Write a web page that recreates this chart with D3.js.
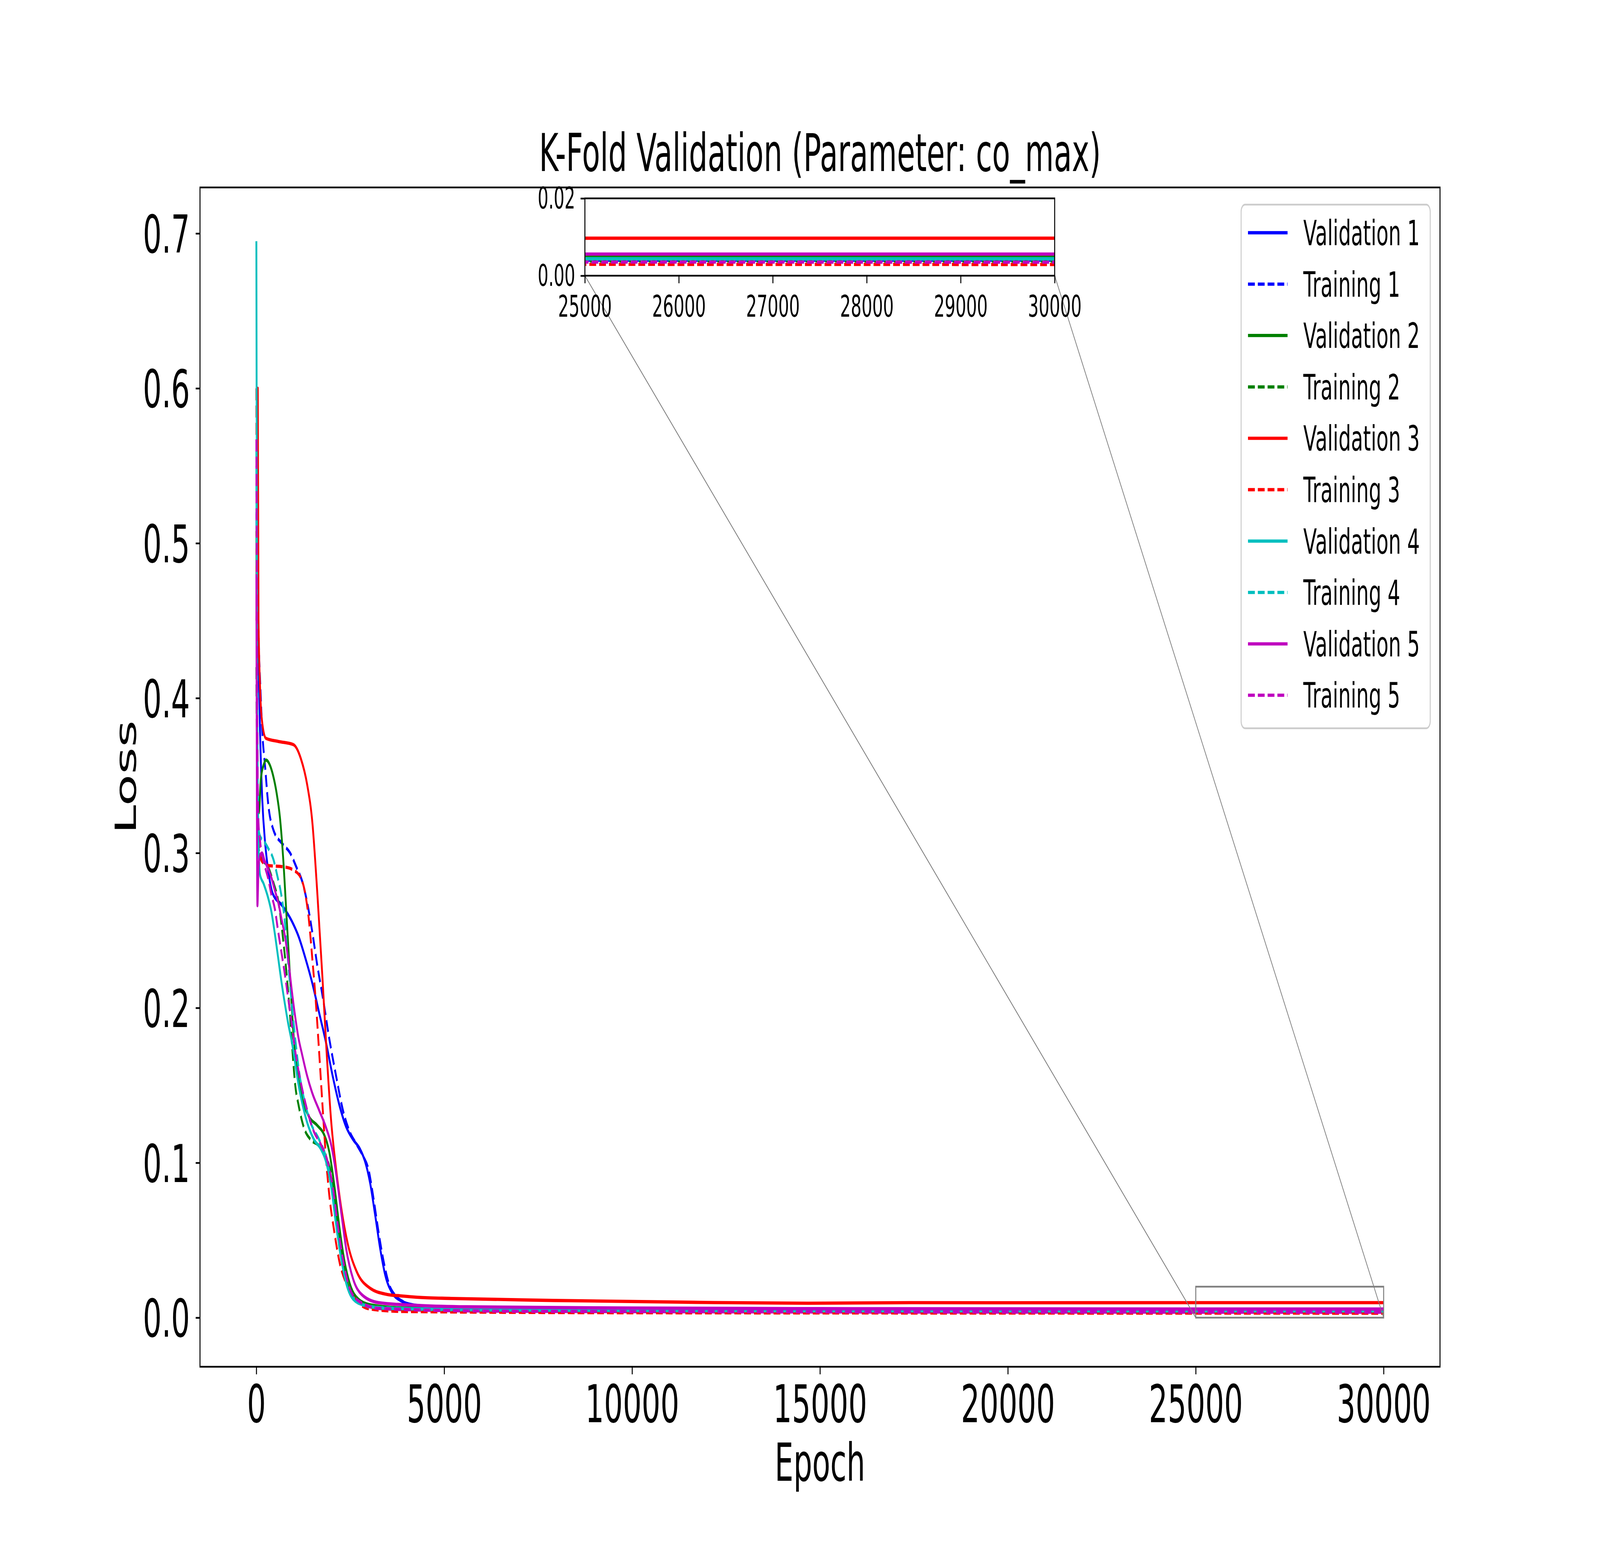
<!DOCTYPE html>
<html>
<head>
<meta charset="utf-8">
<script src="https://cdn.jsdelivr.net/npm/d3@7"></script>
<style>
  body { margin: 0; background: #ffffff; overflow: hidden; }
  text { font-family: "DejaVu Sans", sans-serif; fill: #000; }
</style>
</head>
<body>
<div id="chart"></div>
<script>
// Loss curves, [epoch, loss]
var val1 = [[0,0.52],[40,0.45],[97,0.379],[156,0.335],[235,0.306],[314,0.289],[432,0.274],[689,0.266],[944,0.256],[1125,0.246],[1306,0.232],[1488,0.216],[1669,0.197],[1850,0.178],[2031,0.156],[2212,0.137],[2393,0.123],[2574,0.115],[2755,0.109],[2891,0.101],[3027,0.087],[3163,0.066],[3299,0.044],[3435,0.027],[3616,0.016],[3842,0.011],[4159,0.0083],[4837,0.0068],[6000,0.0058],[10000,0.0050],[15000,0.0046],[20000,0.0044],[25000,0.0042],[30000,0.0042]];
var train1 = [[0,0.55],[60,0.44],[110,0.405],[156,0.379],[235,0.355],[314,0.332],[452,0.315],[689,0.306],[899,0.300],[1080,0.290],[1216,0.282],[1352,0.268],[1488,0.249],[1624,0.227],[1760,0.208],[1941,0.180],[2122,0.156],[2303,0.134],[2484,0.120],[2665,0.112],[2846,0.104],[2981,0.096],[3117,0.077],[3253,0.055],[3389,0.036],[3525,0.022],[3706,0.014],[3932,0.010],[4385,0.007],[5500,0.0055],[10000,0.0046],[15000,0.0043],[20000,0.0041],[25000,0.0040],[30000,0.0040]];
var val2 = [[0,0.508],[30,0.34],[67,0.326],[117,0.347],[196,0.357],[260,0.360],[355,0.357],[446,0.350],[537,0.339],[627,0.323],[718,0.295],[808,0.257],[899,0.219],[989,0.183],[1080,0.161],[1216,0.142],[1397,0.130],[1624,0.124],[1805,0.118],[1941,0.107],[2077,0.085],[2212,0.058],[2348,0.036],[2484,0.022],[2710,0.012],[3027,0.0083],[3932,0.0062],[6000,0.0055],[10000,0.0051],[15000,0.0049],[20000,0.0048],[25000,0.0048],[30000,0.0048]];
var train2 = [[0,0.42],[40,0.31],[100,0.298],[175,0.295],[310,0.291],[452,0.281],[590,0.268],[718,0.243],[808,0.221],[899,0.194],[967,0.170],[1035,0.150],[1125,0.137],[1261,0.123],[1442,0.115],[1669,0.111],[1850,0.104],[1987,0.093],[2122,0.068],[2258,0.044],[2393,0.025],[2574,0.014],[2846,0.0083],[3479,0.0056],[6000,0.0045],[10000,0.0041],[20000,0.0039],[30000,0.0038]];
var val3 = [[0,0.45],[38,0.600],[57,0.451],[97,0.408],[156,0.384],[255,0.374],[590,0.372],[984,0.370],[1183,0.361],[1353,0.344],[1489,0.320],[1625,0.273],[1760,0.219],[1873,0.170],[1987,0.128],[2122,0.096],[2258,0.071],[2439,0.047],[2665,0.030],[3027,0.019],[3479,0.015],[3823,0.0141],[4385,0.0130],[5184,0.0124],[7898,0.0111],[11968,0.0098],[14686,0.0093],[17402,0.0097],[20117,0.0096],[25000,0.0097],[30000,0.0097]];
var train3 = [[0,0.60],[15,0.45],[40,0.33],[97,0.300],[137,0.295],[295,0.292],[748,0.291],[984,0.289],[1183,0.284],[1306,0.273],[1397,0.257],[1488,0.232],[1579,0.205],[1669,0.172],[1760,0.137],[1850,0.104],[1941,0.079],[2077,0.055],[2212,0.036],[2393,0.022],[2665,0.011],[3027,0.0056],[3932,0.0040],[10000,0.0032],[20000,0.0030],[30000,0.0029]];
var val4 = [[0,0.695],[20,0.42],[49,0.315],[97,0.286],[196,0.280],[314,0.271],[401,0.262],[491,0.248],[582,0.232],[673,0.216],[763,0.202],[854,0.189],[944,0.178],[1035,0.164],[1125,0.150],[1216,0.139],[1352,0.126],[1533,0.115],[1714,0.109],[1850,0.101],[1987,0.085],[2122,0.060],[2258,0.038],[2393,0.022],[2574,0.012],[2846,0.0083],[3479,0.0060],[6000,0.0050],[10000,0.0046],[20000,0.0044],[30000,0.0044]];
var train4 = [[0,0.56],[25,0.36],[62,0.315],[97,0.311],[220,0.307],[314,0.303],[452,0.296],[560,0.285],[649,0.275],[748,0.258],[854,0.227],[944,0.202],[1035,0.180],[1125,0.161],[1261,0.142],[1442,0.126],[1669,0.115],[1850,0.104],[1987,0.088],[2122,0.060],[2258,0.038],[2439,0.019],[2665,0.011],[3027,0.0070],[5000,0.0052],[10000,0.0047],[20000,0.0044],[30000,0.0043]];
var val5 = [[0,0.48],[28,0.266],[60,0.292],[106,0.299],[152,0.300],[220,0.295],[310,0.290],[401,0.284],[491,0.276],[582,0.268],[673,0.257],[763,0.246],[854,0.230],[944,0.211],[1035,0.194],[1125,0.180],[1216,0.170],[1352,0.156],[1488,0.145],[1669,0.134],[1850,0.123],[1987,0.112],[2122,0.093],[2258,0.068],[2393,0.044],[2574,0.025],[2800,0.015],[3253,0.0097],[4385,0.0078],[5600,0.0070],[10000,0.0062],[15000,0.0058],[20000,0.0057],[25000,0.0056],[30000,0.0056]];
var train5 = [[0,0.567],[30,0.36],[62,0.317],[97,0.308],[220,0.292],[310,0.284],[401,0.273],[491,0.264],[582,0.249],[673,0.235],[763,0.221],[854,0.205],[944,0.189],[1035,0.172],[1125,0.159],[1216,0.148],[1352,0.134],[1533,0.120],[1714,0.112],[1895,0.101],[2031,0.085],[2167,0.060],[2303,0.038],[2484,0.019],[2710,0.011],[3253,0.0060],[6000,0.0043],[10000,0.0039],[20000,0.0036],[30000,0.0035]];

// Labels and ticks
var seriesNames = ["Validation 1", "Training 1", "Validation 2", "Training 2", "Validation 3",
                   "Training 3", "Validation 4", "Training 4", "Validation 5", "Training 5"];
var xTicks = [0, 5000, 10000, 15000, 20000, 25000, 30000];
var yTicks = [0.0, 0.1, 0.2, 0.3, 0.4, 0.5, 0.6, 0.7];
var insetXTicks = [25000, 26000, 27000, 28000, 29000, 30000];
var insetYTicks = [0.00, 0.02];
var zoomX = [25000, 30000];
var zoomY = [0, 0.02];

var seriesData = [val1, train1, val2, train2, val3, train3, val4, train4, val5, train5];
var foldColors = ["#0000ff", "#008000", "#ff0000", "#00bfbf", "#bf00bf"];

var series = seriesData.map((d, i) => ({
  name: seriesNames[i],
  values: d,
  color: foldColors[Math.floor(i / 2)],
  dashed: i % 2 == 1
}));

// The figure is laid out on a 7200x4000 canvas, then fitted to the window
var figWidth = 7200;
var figHeight = 4000;
var plot = {left: 900, right: 6480, top: 480, bottom: 3500};
var inset = {left: 2632, right: 4746, top: 508, bottom: 706};
var lineWidth = 8.33;
var dashPattern = "30.8,13.3";
var spineWidth = 4.44;
var tickLen = 19.4;

var svg = d3.select("#chart")
            .append("svg")
            .attr("width", window.innerWidth)
            .attr("height", window.innerHeight)
            .attr("viewBox", `0 0 ${figWidth} ${figHeight}`)
            .attr("preserveAspectRatio", "none")
            .style("display", "block")
            .style("background", "#fff");

// Scales, with matplotlib's 5% margins
var xScale = d3.scaleLinear().domain([-1500, 31500]).range([plot.left, plot.right]);
var yScale = d3.scaleLinear().domain([-0.0317, 0.7297]).range([plot.bottom, plot.top]);
var ixScale = d3.scaleLinear().domain(zoomX).range([inset.left, inset.right]);
var iyScale = d3.scaleLinear().domain(zoomY).range([inset.bottom, inset.top]);

var defs = svg.append("defs");
defs.append("clipPath").attr("id", "clipMain")
    .append("rect")
    .attr("x", plot.left).attr("y", plot.top)
    .attr("width", plot.right - plot.left).attr("height", plot.bottom - plot.top);
defs.append("clipPath").attr("id", "clipInset")
    .append("rect")
    .attr("x", inset.left).attr("y", inset.top)
    .attr("width", inset.right - inset.left).attr("height", inset.bottom - inset.top);

function styleLine(sel) {
  sel.attr("fill", "none")
     .attr("stroke", d => d.color)
     .attr("stroke-width", lineWidth)
     .attr("stroke-linejoin", "round")
     .attr("stroke-dasharray", d => d.dashed ? dashPattern : null);
}

// Main lines
var mainLine = d3.line()
                 .x(d => xScale(d[0]))
                 .y(d => yScale(d[1]))
                 .curve(d3.curveMonotoneX);

svg.append("g")
   .attr("clip-path", "url(#clipMain)")
   .selectAll("path")
   .data(series)
   .enter()
   .append("path")
   .attr("d", d => mainLine(d.values))
   .call(styleLine);

// Main axes
var xAxis = d3.axisBottom(xScale).tickValues(xTicks).tickFormat(d3.format("d"))
              .tickSize(tickLen).tickSizeOuter(0).tickPadding(28);
var yAxis = d3.axisLeft(yScale).tickValues(yTicks).tickFormat(d3.format(".1f"))
              .tickSize(tickLen).tickSizeOuter(0).tickPadding(26);

function styleAxis(g, size) {
  g.select(".domain").remove();
  g.selectAll("line").attr("stroke", "#000").attr("stroke-width", spineWidth);
  g.selectAll("text").attr("font-size", size).attr("font-family", "DejaVu Sans").attr("fill", "#000");
}

svg.append("g")
   .attr("transform", `translate(0, ${plot.bottom})`)
   .call(xAxis)
   .call(g => styleAxis(g, 133));

svg.append("g")
   .attr("transform", `translate(${plot.left}, 0)`)
   .call(yAxis)
   .call(g => styleAxis(g, 133))
   .call(g => g.selectAll("text").attr("dy", "0.365em"));

svg.append("rect")
   .attr("x", plot.left).attr("y", plot.top)
   .attr("width", plot.right - plot.left).attr("height", plot.bottom - plot.top)
   .attr("fill", "none").attr("stroke", "#000").attr("stroke-width", spineWidth);

// Zoom indicator rectangle and connector lines
svg.append("rect")
   .attr("x", xScale(zoomX[0])).attr("y", yScale(zoomY[1]))
   .attr("width", xScale(zoomX[1]) - xScale(zoomX[0]))
   .attr("height", yScale(zoomY[0]) - yScale(zoomY[1]))
   .attr("fill", "none").attr("stroke", "#808080").attr("stroke-width", 4.5);

svg.append("line")
   .attr("x1", inset.left).attr("y1", inset.bottom)
   .attr("x2", xScale(zoomX[0])).attr("y2", yScale(zoomY[0]))
   .attr("stroke", "#808080").attr("stroke-width", 3);
svg.append("line")
   .attr("x1", inset.right).attr("y1", inset.bottom)
   .attr("x2", xScale(zoomX[1])).attr("y2", yScale(zoomY[0]))
   .attr("stroke", "#808080").attr("stroke-width", 3);

// Inset axes
svg.append("rect")
   .attr("x", inset.left).attr("y", inset.top)
   .attr("width", inset.right - inset.left).attr("height", inset.bottom - inset.top)
   .attr("fill", "#fff");

var insetLine = d3.line()
                  .x(d => ixScale(d[0]))
                  .y(d => iyScale(d[1]))
                  .curve(d3.curveMonotoneX);

svg.append("g")
   .attr("clip-path", "url(#clipInset)")
   .selectAll("path")
   .data(series)
   .enter()
   .append("path")
   .attr("d", d => insetLine(d.values))
   .call(styleLine);

svg.append("g")
   .attr("transform", `translate(0, ${inset.bottom})`)
   .call(d3.axisBottom(ixScale).tickValues(insetXTicks).tickFormat(d3.format("d"))
           .tickSize(tickLen).tickSizeOuter(0).tickPadding(32))
   .call(g => styleAxis(g, 76));

svg.append("g")
   .attr("transform", `translate(${inset.left}, 0)`)
   .call(d3.axisLeft(iyScale).tickValues(insetYTicks).tickFormat(d3.format(".2f"))
           .tickSize(tickLen).tickSizeOuter(0).tickPadding(24))
   .call(g => styleAxis(g, 76))
   .call(g => g.selectAll("text").attr("dy", "0.34em"));

svg.append("rect")
   .attr("x", inset.left).attr("y", inset.top)
   .attr("width", inset.right - inset.left).attr("height", inset.bottom - inset.top)
   .attr("fill", "none").attr("stroke", "#000").attr("stroke-width", spineWidth);

// Title and axis labels
svg.append("text")
   .attr("x", (plot.left + plot.right) / 2).attr("y", 438)
   .attr("text-anchor", "middle").attr("font-size", 133)
   .text("K-Fold Validation (Parameter: co_max)");

svg.append("text")
   .attr("x", (plot.left + plot.right) / 2).attr("y", 3792)
   .attr("text-anchor", "middle").attr("font-size", 133)
   .text("Epoch");

svg.append("text")
   .attr("transform", `translate(612, ${(plot.top + plot.bottom) / 2}) rotate(-90)`)
   .attr("text-anchor", "middle").attr("font-size", 133)
   .text("Loss");

// Legend
var legendFont = 89;
var legendBox = {left: 5585, right: 6436, top: 524, bottom: 1865};
var legendRowStart = 596;
var legendRowStep = 131.6;

var legend = svg.append("g");
legend.append("rect")
      .attr("x", legendBox.left).attr("y", legendBox.top)
      .attr("width", legendBox.right - legendBox.left)
      .attr("height", legendBox.bottom - legendBox.top)
      .attr("rx", 18).attr("ry", 18)
      .attr("fill", "#fff").attr("fill-opacity", 0.8)
      .attr("stroke", "#cccccc").attr("stroke-width", 4.4);

var rows = legend.selectAll(".row")
                 .data(series)
                 .enter()
                 .append("g")
                 .attr("transform", (d, i) => `translate(0, ${legendRowStart + i * legendRowStep})`);

rows.append("line")
    .attr("x1", 5616).attr("x2", 5794).attr("y1", 0).attr("y2", 0)
    .call(styleLine);

rows.append("text")
    .attr("x", 5865).attr("y", legendFont * 0.36)
    .attr("font-size", legendFont)
    .text(d => d.name);
</script>
</body>
</html>
